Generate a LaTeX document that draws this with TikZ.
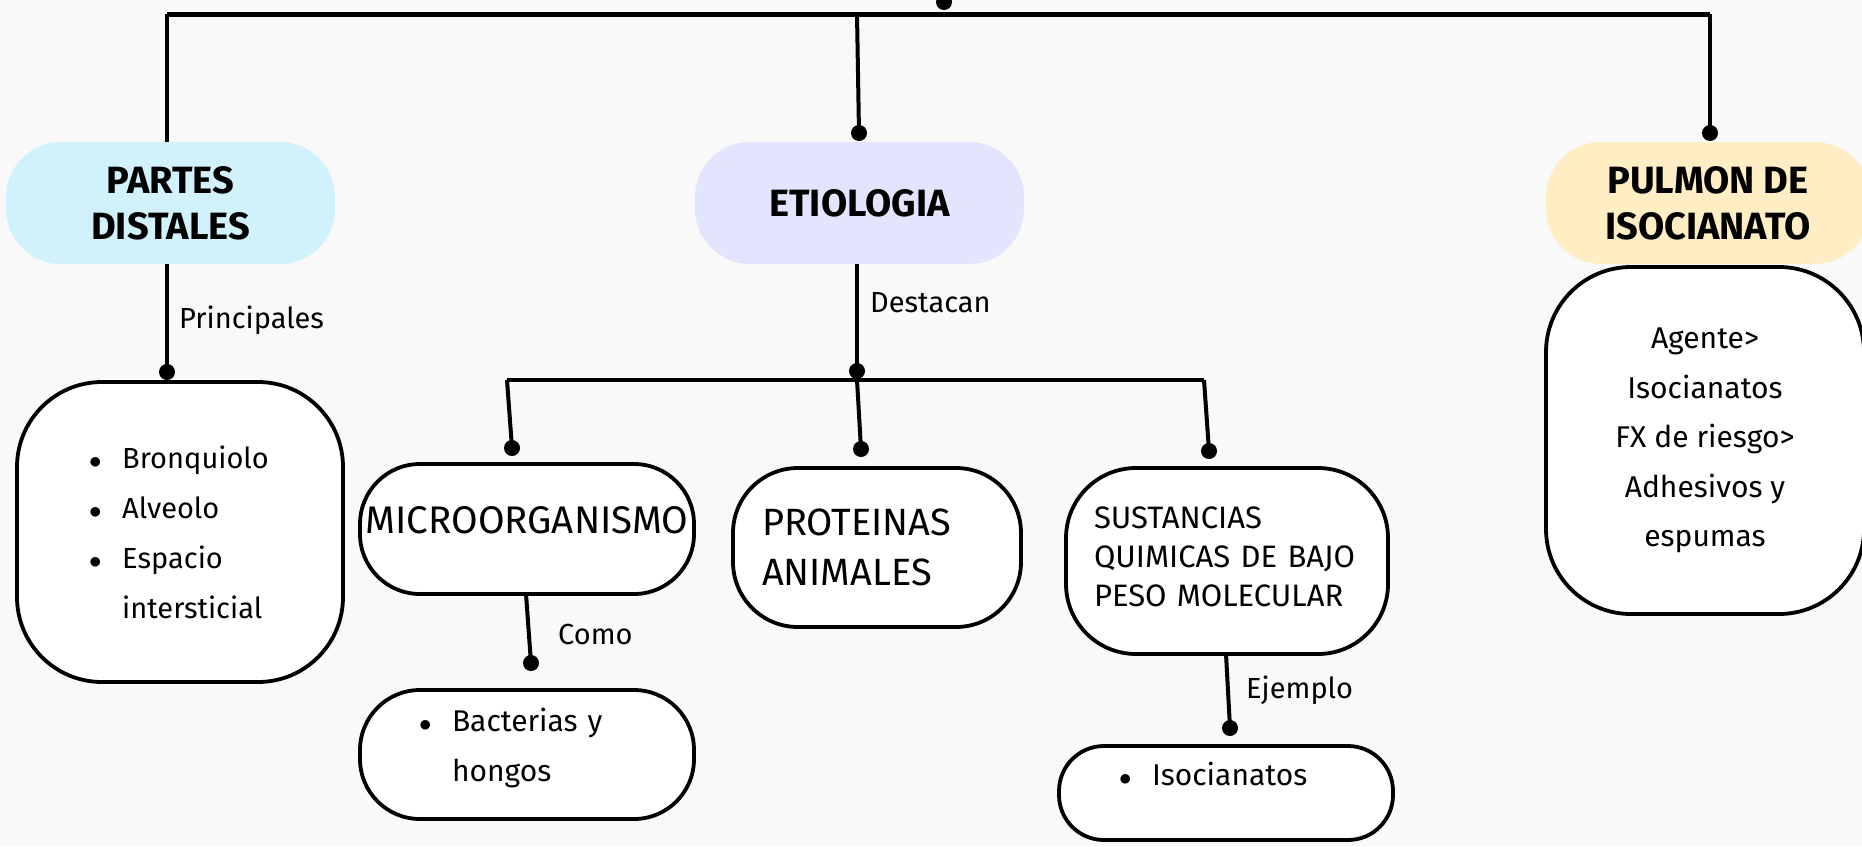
\documentclass[tikz,border=0pt]{standalone}
\usepackage{fontspec}
\setmainfont{Fira Sans}
\definecolor{bg}{HTML}{F9F9F9}
\definecolor{cyanbox}{HTML}{D1F2FD}
\definecolor{lavbox}{HTML}{E3E4FD}
\definecolor{yelbox}{HTML}{FFEDC4}
\newcommand\itembul{\makebox[31pt][l]{\hspace*{-2pt}\(\bullet\)}}
\newcommand\itemcont{\hspace*{31pt}}
\begin{document}
\begin{tikzpicture}[x=1pt,y=-1pt,
  head/.style={rectangle, rounded corners=55pt, minimum width=329pt, minimum height=122pt,
    align=center, inner sep=0pt, font=\fontsize{38}{46}\selectfont\bfseries},
  card/.style={draw, line width=3.8pt, fill=white, rectangle, inner sep=0pt},
  conn/.style={line width=4pt},
  mainline/.style={line width=5pt},
  lab/.style={anchor=west, inner sep=0pt, font=\fontsize{29}{34}\selectfont}]
\fill[bg] (0,0) rectangle (1862,846);
\useasboundingbox (0,0) rectangle (1862,846);

% header nodes
\node[head, fill=cyanbox] (partes) at (170.5,203) {PARTES\\DISTALES};
\node[head, fill=lavbox] (etio) at (859.5,203) {ETIOLOGIA};
\node[head, fill=yelbox, minimum width=324pt] (pulmon) at (1708,203) {PULMON DE\\ISOCIANATO};

% content cards
\node[card, rounded corners=85pt, minimum width=326pt, minimum height=300pt, align=left,
  font=\fontsize{29}{50}\selectfont] (partlist) at (180,532)
  {\itembul Bronquiolo\\ \itembul Alveolo\\ \itembul Espacio\\ \itemcont intersticial};
\node[card, rounded corners=60pt, minimum width=334pt, minimum height=130pt, align=center,
  text depth=18pt, font=\fontsize{38.5}{42}\selectfont] (micro) at (527,529) {MICROORGANISMO};
\node[card, rounded corners=65pt, minimum width=288pt, minimum height=159pt, text width=230pt,
  align=left, font=\fontsize{38}{50}\selectfont] (prot) at (877,547.5) {PROTEINAS\\ANIMALES};
\node[card, rounded corners=70pt, minimum width=322pt, minimum height=186pt, text width=266pt,
  align=left, text depth=86pt, font=\fontsize{31}{39}\selectfont] (sust) at (1227,561)
  {SUSTANCIAS\\QUIMICAS DE BAJO\\PESO MOLECULAR};
\node[card, rounded corners=60pt, minimum width=334pt, minimum height=129pt, text width=212pt,
  align=left, text depth=70pt, font=\fontsize{30}{50}\selectfont] (bact) at (527,754.5)
  {\itembul Bacterias y\\ \itemcont hongos};
\node[card, rounded corners=45pt, minimum width=334pt, minimum height=94pt, text width=210pt,
  align=left, text depth=38pt, font=\fontsize{30}{50}\selectfont] (iso) at (1226,793)
  {\itembul Isocianatos};
\node[card, rounded corners=85pt, minimum width=318pt, minimum height=347pt, align=center,
  font=\fontsize{30}{49.5}\selectfont] (pbody) at (1705,440.5)
  {Agente>\\Isocianatos\\FX de riesgo>\\Adhesivos y\\espumas};

% junction coordinates
\coordinate (topdot) at (944,2);
\coordinate (tl) at (167,14);
\coordinate (tm) at (857,14);
\coordinate (tr) at (1710,14);
\coordinate (etioin) at (859,133);
\coordinate (pulin) at (1710,133);
\coordinate (partout) at (167,264);
\coordinate (plin) at (167,372);
\coordinate (etioout) at (857,264);
\coordinate (ejunc) at (857,371);
\coordinate (hl) at (507,380);
\coordinate (hm) at (857,380);
\coordinate (hr) at (1204,380);
\coordinate (micin) at (512,448);
\coordinate (protin) at (861,449);
\coordinate (sustin) at (1209,451);
\coordinate (micout) at (526,594);
\coordinate (bactin) at (531,663);
\coordinate (sustout) at (1226,654);
\coordinate (isoin) at (1230,728);

% connectors
\draw[mainline] (tl) -- (tr);
\draw[conn] (tl) -- (tl |- partes.north);
\draw[conn] (tm) -- (etioin);
\draw[conn] (tr) -- (pulin);
\draw[conn] (partout) -- (plin);
\draw[conn] (etioout) -- (ejunc);
\draw[conn] (hl) -- (hr);
\draw[conn] (hl) -- (micin);
\draw[conn] (hm) -- (protin);
\draw[conn] (hr) -- (sustin);
\draw[conn] (micout) -- (bactin);
\draw[conn] (sustout) -- (isoin);
\foreach \c in {topdot,etioin,pulin,plin,ejunc,micin,protin,sustin,bactin,isoin}
  \fill (\c) circle [radius=8];

% connector labels
\node[lab] (lprin) at (179,320) {Principales};
\node[lab] (ldest) at (870,303) {Destacan};
\node[lab] (lcomo) at (558,634) {Como};
\node[lab] (lejem) at (1246,690) {Ejemplo};
\end{tikzpicture}
\end{document}
